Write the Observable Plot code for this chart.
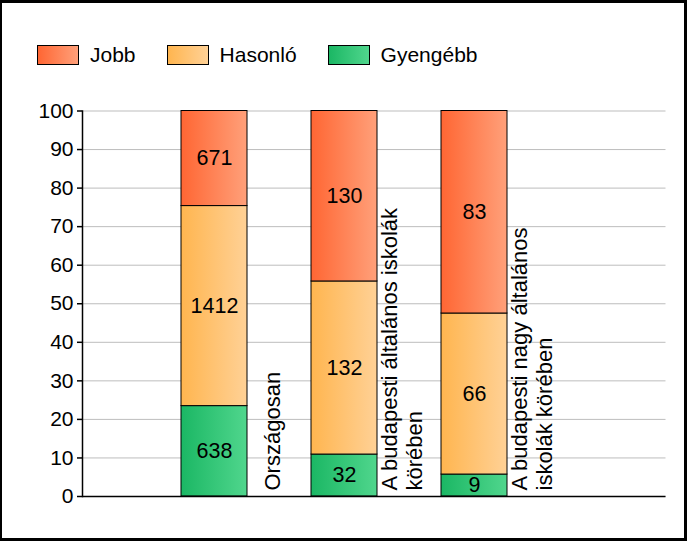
<!DOCTYPE html>
<html>
<head>
<meta charset="utf-8">
<script src="https://cdn.jsdelivr.net/npm/d3@7"></script>
<script src="https://cdn.jsdelivr.net/npm/@observablehq/plot@0.6"></script>
<style>
  html, body { margin: 0; padding: 0; background: #fff; }
  #wrap { position: relative; width: 687px; height: 541px; overflow: hidden; background: #fff;
          font-family: "Liberation Sans", Arial, sans-serif; }
  #border { position: absolute; left: 0; top: 0; width: 687px; height: 541px; box-sizing: border-box;
            border: 3px solid #000; border-left-width: 2px; pointer-events: none; z-index: 5; }
  #legend { position: absolute; left: 37px; top: 43px; display: flex; align-items: center; font-size: 21px; color: #000; }
  .item { display: flex; align-items: center; margin-right: 31px; }
  .sw { width: 42px; height: 20px; box-sizing: border-box; border: 1px solid #000; margin-right: 11px; }
  #chart { position: absolute; left: 0; top: 80px; }
</style>
</head>
<body>
<div id="wrap">
  <div id="legend"></div>
  <div id="chart"></div>
  <div id="border"></div>
</div>
<script>
// ---- data ----
const categories = [
  "Országosan",
  "A budapesti általános iskolák\nkörében",
  "A budapesti nagy általános\niskolák körében"
];
const groups = ["Gyengébb", "Hasonló", "Jobb"];
const gyengebb = [638, 32, 9];
const hasonlo = [1412, 132, 66];
const jobb = [671, 130, 83];
const yTicks = [0, 10, 20, 30, 40, 50, 60, 70, 80, 90, 100];
const legendOrder = ["Jobb", "Hasonló", "Gyengébb"];

// gradient colours (left -> right)
const gradients = {
  "Jobb": ["#ff6633", "#ffa07a"],
  "Hasonló": ["#ffb54f", "#ffd196"],
  "Gyengébb": ["#1bb764", "#50d68d"]
};
const gradId = {"Jobb": "gJobb", "Hasonló": "gHas", "Gyengébb": "gGyen"};

// ---- table ----
const series = {"Gyengébb": gyengebb, "Hasonló": hasonlo, "Jobb": jobb};
const rows = [];
categories.forEach((cat, i) => {
  const total = gyengebb[i] + hasonlo[i] + jobb[i];
  groups.forEach(g => {
    rows.push({cat, group: g, count: series[g][i], pct: series[g][i] / total * 100});
  });
});

// ---- legend ----
const legend = document.getElementById("legend");
legendOrder.forEach(g => {
  const it = document.createElement("div");
  it.className = "item";
  const sw = document.createElement("div");
  sw.className = "sw";
  sw.style.background = `linear-gradient(to right, ${gradients[g][0]}, ${gradients[g][1]})`;
  const tx = document.createElement("span");
  tx.textContent = g;
  it.appendChild(sw); it.appendChild(tx);
  legend.appendChild(it);
});

// ---- chart ----
const font = "'Liberation Sans', Arial, sans-serif";
const plot = Plot.plot({
  width: 687,
  height: 461,
  marginLeft: 82,
  marginRight: 21.5,
  marginTop: 30.5,
  marginBottom: 45,
  style: {fontFamily: font, fontSize: "21px", color: "#000", background: "transparent", overflow: "visible"},
  x: {type: "band", domain: categories, range: [180, 508], paddingInner: 0.496, paddingOuter: 0, axis: null},
  y: {domain: [0, 100]},
  color: {domain: groups, range: groups.map(g => `url(#${gradId[g]})`)},
  marks: [
    Plot.gridY(yTicks, {stroke: "#bdbdbd", strokeOpacity: 1, strokeWidth: 1}),
    Plot.barY(rows, {x: "cat", y: "pct", z: "group", fill: "group", stroke: "#000", strokeWidth: 1}),
    Plot.text(rows, Plot.stackY({x: "cat", y: "pct", z: "group", text: d => String(d.count), fontSize: 21.5, fill: "#000"})),
    Plot.ruleY([0], {stroke: "#000", strokeWidth: 1.5}),
    Plot.axisY(yTicks, {tickSize: 5, tickPadding: 4, fontSize: 21, label: null, stroke: "#000", strokeWidth: 1.5}),
    Plot.frame({anchor: "left", stroke: "#000", strokeWidth: 1.5}),
    Plot.text(categories, {x: d => d, y: () => 0, text: d => d, rotate: -90, textAnchor: "start",
      lineAnchor: "middle", lineHeight: 1.15, dx: 57, dy: -6, fontSize: 22, fill: "#000"})
  ]
});

// gradient defs
const defs = d3.select(plot).insert("defs", ":first-child");
groups.forEach(g => {
  const lg = defs.append("linearGradient").attr("id", gradId[g])
    .attr("x1", "0%").attr("x2", "100%").attr("y1", "0%").attr("y2", "0%");
  lg.append("stop").attr("offset", "0%").attr("stop-color", gradients[g][0]);
  lg.append("stop").attr("offset", "100%").attr("stop-color", gradients[g][1]);
});

document.getElementById("chart").appendChild(plot);
</script>
</body>
</html>
